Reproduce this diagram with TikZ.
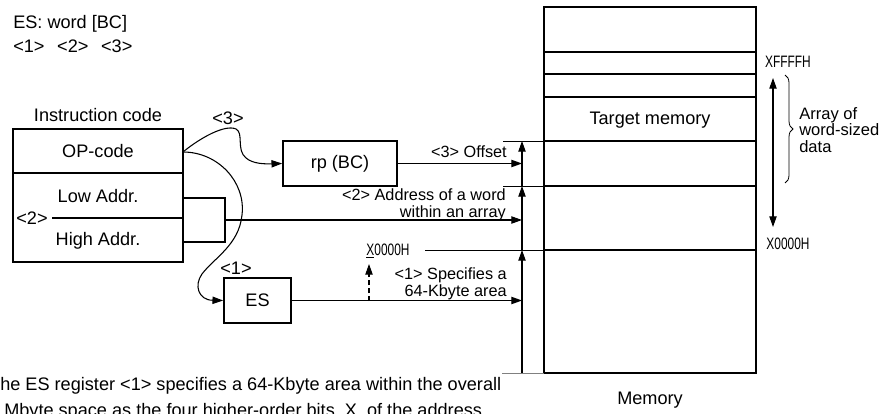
\documentclass[tikz,border=0pt]{standalone}
\usepackage{fontspec}
\setmainfont{Liberation Sans}
\newfontfamily\addrfont[FakeStretch=0.72]{Liberation Sans}
\usetikzlibrary{arrows.meta,decorations.pathreplacing}

\begin{document}
\begin{tikzpicture}[x=0.75pt,y=-0.75pt,
  every node/.style={inner sep=0pt},
  txt/.style={font=\fontsize{13.6}{16}\selectfont},
  small/.style={font=\fontsize{12.2}{12.8}\selectfont},
  addr/.style={font=\addrfont\fontsize{12.4}{13}\selectfont},
  regbox/.style={draw,line width=1.3pt,minimum height=33.75pt,txt},
  conn/.style={line width=0.8pt},
  guide/.style={line width=0.6pt},
  memline/.style={line width=1.3pt},
  tip/.style={-{Triangle[length=8pt,width=5.5pt]}}]
\useasboundingbox (0,0) rectangle (889,414);
\node[txt,anchor=west] (title) at (13,24) {ES: word [BC]};
\node[txt,anchor=west] (parts) at (13,46) {<1>\hspace{0.7em}<2>\hspace{0.7em}<3>};
% instruction code
\node[txt] (instrlbl) at (98,115) {Instruction code};
\draw[memline] (13,129) rectangle (183,262);
\draw[memline] (13,173) -- (183,173);
\draw[memline] (52,218) -- (183,218);
\node[txt] (opcode) at (98,151) {OP-code};
\node[txt] (lowaddr) at (98,196) {Low Addr.};
\node[txt] (highaddr) at (98,241) {High Addr.};
\node[txt] (lbltwo) at (32,218) {<2>};
\coordinate (opout) at (183,152);
% registers
\node[regbox,minimum width=85.5pt] (rp) at (340,163.5) {rp (BC)};
\node[regbox,minimum width=50.25pt] (es) at (257.5,300.5) {ES};
\node[txt] (lblthree) at (228,118) {<3>};
\node[txt] (lblone) at (236,268) {<1>};
\draw[conn,tip] (opout) .. controls (200,138) and (225,124) .. (236,129)
  .. controls (244,133) and (236,150) .. (246,158)
  .. controls (253,164) and (265,164) .. (rp.west);
\draw[conn,tip] (opout) .. controls (218,152) and (246,182) .. (242,215)
  .. controls (239,245) and (214,258) .. (202,274)
  .. controls (194,285) and (198,300) .. (es.west);
% memory
\draw[memline] (544,7) rectangle (756,373);
\foreach \y in {52,74,97,141,186,250}
  \draw[memline] (544,\y) -- (756,\y);
\node[txt] (target) at (650,120) {Target memory};
\node[txt] (memlbl) at (650,400) {Memory};
% address axis
\coordinate (axbot) at (522,373);
\coordinate (axes) at (522,250);
\coordinate (axrow) at (522,186);
\coordinate (axoff) at (522,141);
\draw[conn,tip] (axbot) -- (axes);
\draw[conn,tip] (axes) -- (axrow);
\draw[conn,tip] (axrow) -- (axoff);
\draw[guide] (503,141) -- (544,141);
\draw[guide] (503,186) -- (544,186);
\draw[guide,gray] (502,373) -- (544,373);
\coordinate (brk) at (225,220);
\draw[conn] (183,198) -| (225,242) -- (183,242);
\draw[conn,tip] (brk) -- (brk -| axbot);
\draw[conn,tip] (rp.east) -- (rp.east -| axbot);
\draw[conn,tip] (es.east) -- (es.east -| axbot);
\node[small,anchor=east] (offlbl) at (507,152) {<3> Offset};
\node[small,anchor=east,align=right] (wordlbl) at (506,204.5) {<2> Address of a word\\within an array};
\node[small,anchor=east,align=right] (arealbl) at (507,284) {<1> Specifies a\\64-Kbyte area};
\node[addr] (esbase) at (388,251) {\underline{X}0000H};
\draw[guide] (425,250) -- (544,250);
\coordinate (dashfoot) at (369,301);
\draw[conn,tip,dash pattern=on 4pt off 2pt] (dashfoot) -- (369,264);
% array range
\node[addr] (hiaddr) at (788,62) {XFFFFH};
\node[addr] (loaddr) at (788,244) {X0000H};
\draw[conn,{Triangle[length=8pt,width=5.5pt]}-{Triangle[length=8pt,width=5.5pt]}] (773,78) -- (773,227);
\draw[guide,decorate,decoration={brace,amplitude=6pt}] (785,75) -- (785,183);
\node[small,anchor=west,align=left,font=\fontsize{12.4}{12.4}\selectfont] (arrlbl) at (799,130) {Array of\\word-sized\\data};
% note
\node[txt,anchor=base west] (noteone) at (0,390) {he ES register <1> specifies a 64-Kbyte area within the overall};
\node[txt,anchor=base west] (notetwo) at (4,416) {Mbyte space as the four higher-order bits, X, of the address};
\end{tikzpicture}
\end{document}
